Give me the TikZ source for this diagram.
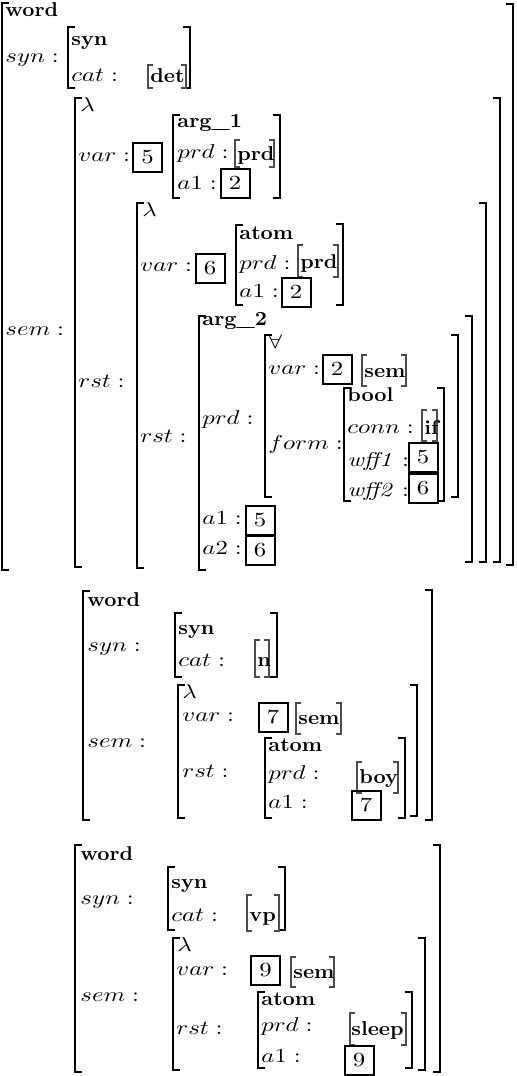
\documentclass[tikz,border=0pt]{standalone}
\usepackage{graphicx}
\newcommand\itl[1]{\scalebox{1.24}[1.0]{#1}}
\newcommand\bft[1]{\scalebox{1.06}[1.0]{\textbf{#1}}}
\newcommand\avL[3]{\draw[brk] ({#1+7},#2) -- (#1,#2) -- (#1,#3) -- ({#1+7},#3);}
\newcommand\avR[3]{\draw[brk] ({#1-7},#2) -- (#1,#2) -- (#1,#3) -- ({#1-7},#3);}
\newcommand\avl[3]{\draw[sbrk] ({#1+5},#2) -- (#1,#2) -- (#1,#3) -- ({#1+5},#3);}
\newcommand\avr[3]{\draw[sbrk] ({#1-5},#2) -- (#1,#2) -- (#1,#3) -- ({#1-5},#3);}
\tikzset{
  brk/.style={line width=1.05pt},
  sbrk/.style={line width=0.65pt, draw=black!70},
  lab/.style={anchor=base west, inner sep=0pt},
  box/.style={draw, line width=1pt, minimum width=14.5pt, minimum height=14.5pt, inner sep=0pt}
}
\begin{document}
\begin{tikzpicture}[x=0.5pt,y=-0.5pt]
\useasboundingbox (0,0) rectangle (516,1076);
% ---------- AVM 0 ----------
\avL{2}{3}{570}\avR{513}{4}{565}
\node[lab] (w0) at (5,17) {\bft{word}};
\node[lab] (syn0) at (5,62) {\itl{$syn:$}};
\avL{68}{27}{88}\avR{190}{27}{88}
\node[lab] (syn0t) at (71,45) {\bft{syn}};
\node[lab] (cat0) at (71,81) {\itl{$cat:$}};
\avl{148}{65}{88}\avr{186}{65}{88}
\node[lab] (det0) at (150,82) {\bft{det}};
\node[lab] (sem0) at (5,335) {\itl{$sem:$}};
\avL{75}{98}{567}\avR{500}{98}{562}
\node[lab] (lam1) at (80,111) {\itl{$\lambda$}};
\node[lab] (var1) at (78,161) {\itl{$var:$}};
\node[box] (b1) at (147.5,157) {\itl{5}};
\avL{173}{115}{198}\avR{280}{115}{198}
\node[lab] (arg1) at (177,127) {\bft{arg\_1}};
\node[lab] (prd1) at (177,158) {\itl{$prd:$}};
\avl{235}{140}{167}\avr{274}{140}{167}
\node[lab] (prd1v) at (237,160) {\bft{prd}};
\node[lab] (a11) at (177,189) {\itl{$a1:$}};
\node[box] (b2) at (235,183) {\itl{2}};
\node[lab] (rst1) at (78,387) {\itl{$rst:$}};
\avL{137}{203}{568}\avR{486}{203}{562}
\node[lab] (lam2) at (142,216) {\itl{$\lambda$}};
\node[lab] (var2) at (140,271) {\itl{$var:$}};
\node[box] (b3) at (210,268) {\itl{6}};
\avL{236}{225}{305}\avR{343}{224}{305}
\node[lab] (atom2) at (239,239) {\bft{atom}};
\node[lab] (prd2) at (239,269) {\itl{$prd:$}};
\avl{298}{245}{277}\avr{338}{245}{277}
\node[lab] (prd2v) at (300,268) {\bft{prd}};
\node[lab] (a12) at (239,297) {\itl{$a1:$}};
\node[box] (b4) at (296,292) {\itl{2}};
\node[lab] (rst2) at (140,442) {\itl{$rst:$}};
\avL{199}{316}{570}\avR{472}{316}{562}
\node[lab] (arg2) at (202,325) {\bft{arg\_2}};
\node[lab] (prd3) at (202,424) {\itl{$prd:$}};
\avL{265}{335}{497}\avR{458}{335}{497}
\node[lab] (fa) at (268,348) {\itl{$\forall$}};
\node[lab] (var3) at (268,374) {\itl{$var:$}};
\node[box] (b5) at (337,369) {\itl{2}};
\avl{362}{355}{386}\avr{406}{355}{386}
\node[lab] (sem3v) at (364,377) {\bft{sem}};
\node[lab] (form3) at (268,449) {\itl{$form:$}};
\avL{344}{388}{501}\avR{444}{388}{501}
\node[lab] (bool) at (347,401) {\bft{bool}};
\node[lab] (conn) at (347,433) {\itl{$conn:$}};
\avl{422}{410}{441}\avr{437}{410}{441}
\node[lab] (ifv) at (424,434) {\bft{if}};
\node[lab] (wff1) at (347,466) {\itl{$\mathit{wff1}:$}};
\node[box] (b6) at (423,457) {\itl{5}};
\node[lab] (wff2) at (347,496) {\itl{$\mathit{wff2}:$}};
\node[box] (b7) at (423,488) {\itl{6}};
\node[lab] (a13) at (202,524) {\itl{$a1:$}};
\node[box] (b8) at (260,520) {\itl{5}};
\node[lab] (a23) at (202,554) {\itl{$a2:$}};
\node[box] (b9) at (260,550) {\itl{6}};
% ---------- AVM 1 ----------
\avL{83}{591}{820}\avR{432}{590}{820}
\node[lab] (w1) at (87,606) {\bft{word}};
\node[lab] (syn1) at (87,651) {\itl{$syn:$}};
\avL{175}{613}{677}\avR{277}{613}{677}
\node[lab] (syn1t) at (178,634) {\bft{syn}};
\node[lab] (cat1) at (178,666) {\itl{$cat:$}};
\avl{255}{640}{677}\avr{269}{640}{677}
\node[lab] (n1) at (257,666) {\bft{n}};
\node[lab] (sem1) at (87,747) {\itl{$sem:$}};
\avL{178}{685}{818}\avR{417}{685}{816}
\node[lab] (lam3) at (182,698) {\itl{$\lambda$}};
\node[lab] (var4) at (182,721) {\itl{$var:$}};
\node[box] (b10) at (273,717) {\itl{7}};
\avl{296}{703}{734}\avr{341}{703}{734}
\node[lab] (sem4v) at (298,724) {\bft{sem}};
\node[lab] (rst4) at (182,777) {\itl{$rst:$}};
\avL{265}{738}{818}\avR{405}{738}{818}
\node[lab] (atom4) at (268,751) {\bft{atom}};
\node[lab] (prd4) at (268,779) {\itl{$prd:$}};
\avl{357}{762}{793}\avr{398}{762}{793}
\node[lab] (boy) at (359,783) {\bft{boy}};
\node[lab] (a14) at (268,808) {\itl{$a1:$}};
\node[box] (b11) at (366,805) {\itl{7}};
% ---------- AVM 2 ----------
\avL{75}{845}{1072}\avR{440}{845}{1072}
\node[lab] (w2) at (80,860) {\bft{word}};
\node[lab] (syn2) at (80,904) {\itl{$syn:$}};
\avL{168}{867}{930}\avR{285}{867}{930}
\node[lab] (syn2t) at (171,888) {\bft{syn}};
\node[lab] (cat2) at (171,921) {\itl{$cat:$}};
\avl{247}{895}{931}\avr{279}{895}{931}
\node[lab] (vp) at (249,921) {\bft{vp}};
\node[lab] (sem2) at (80,1001) {\itl{$sem:$}};
\avL{173}{938}{1070}\avR{425}{938}{1070}
\node[lab] (lam4) at (177,951) {\itl{$\lambda$}};
\node[lab] (var5) at (176,975) {\itl{$var:$}};
\node[box] (b12) at (265.5,970) {\itl{9}};
\avl{291}{957}{987}\avr{334}{957}{987}
\node[lab] (sem5v) at (293,978) {\bft{sem}};
\node[lab] (rst5) at (176,1034) {\itl{$rst:$}};
\avL{258}{992}{1068}\avR{412}{992}{1068}
\node[lab] (atom5) at (261,1005) {\bft{atom}};
\node[lab] (prd5) at (261,1031) {\itl{$prd:$}};
\avl{350}{1013}{1045}\avr{406}{1013}{1045}
\node[lab] (sleep) at (351,1035) {\bft{sleep}};
\node[lab] (a15) at (261,1062) {\itl{$a1:$}};
\node[box] (b13) at (359,1060) {\itl{9}};
\end{tikzpicture}
\end{document}
